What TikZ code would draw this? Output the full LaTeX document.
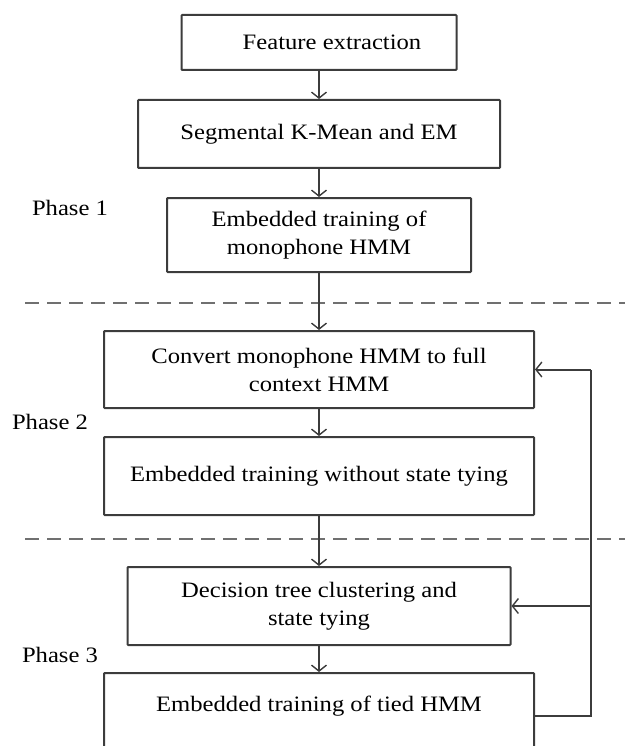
\documentclass[tikz,border=0pt]{standalone}
\usepackage{fontspec}
\setmainfont{Liberation Serif}[FakeStretch=1.12]
\usetikzlibrary{arrows.meta}
\definecolor{boxc}{HTML}{3C3C3C}
\definecolor{dashc}{HTML}{707070}
\begin{document}
\begin{tikzpicture}[x=1pt,y=-1pt,
  box/.style={draw=boxc,line width=2pt,rounded corners=0.8pt,align=center,inner sep=0pt,
    font=\fontsize{22}{28}\selectfont,text=black},
  lbl/.style={font=\fontsize{22}{28}\selectfont,text=black,inner sep=0pt},
  arr/.style={draw=boxc,line width=2pt,-{Straight Barb[length=6pt,width=15pt,line width=1.4pt]}},
  ln/.style={draw=boxc,line width=2pt},
  dl/.style={draw=dashc,line width=2.8pt,dash pattern=on 14pt off 8pt}]
\useasboundingbox (0,0) rectangle (625,746);
\node[box,minimum width=275,minimum height=55] (b1) at (319,42.5) {\hspace*{26pt}Feature extraction};
\node[box,minimum width=362,minimum height=68] (b2) at (319,134) {Segmental K-Mean and EM};
\node[box,minimum width=304,minimum height=74] (b3) at (319,235) {Embedded training of\\monophone HMM};
\node[box,minimum width=430,minimum height=77] (b4) at (319,369.5) {Convert monophone HMM to full\\context HMM};
\node[box,minimum width=430,minimum height=78] (b5) at (319,476) {Embedded training without state tying};
\node[box,minimum width=383,minimum height=78] (b6) at (319,606) {Decision tree clustering and\\state tying};
\node[box,minimum width=430,minimum height=90] (b7) at (319,718) {};
\node[lbl] (t7) at (319,706) {Embedded training of tied HMM};
\node[lbl] (p1) at (70,208) {Phase 1};
\node[lbl] (p2) at (50,422) {Phase 2};
\node[lbl] (p3) at (60,655) {Phase 3};
\coordinate (d1l) at (25,303); \coordinate (d1r) at (625,303);
\coordinate (d2l) at (25,539); \coordinate (d2r) at (625,539);
\draw[dl] (d1l) -- (d1r);
\draw[dl] (d2l) -- (d2r);
\draw[arr] (b1) -- (b2);
\draw[arr] (b2) -- (b3);
\draw[arr] (b3) -- (b4);
\draw[arr] (b4) -- (b5);
\draw[arr] (b5) -- (b6);
\draw[arr] (b6) -- (b7.north);
\coordinate (fbB) at (591,716);
\draw[ln] (b7.east |- fbB) -- (fbB) -- (fbB |- b4.east);
\draw[arr] (fbB |- b4.east) -- (b4.east);
\draw[arr] (fbB |- b6.east) -- (b6.east);
\end{tikzpicture}
\end{document}
